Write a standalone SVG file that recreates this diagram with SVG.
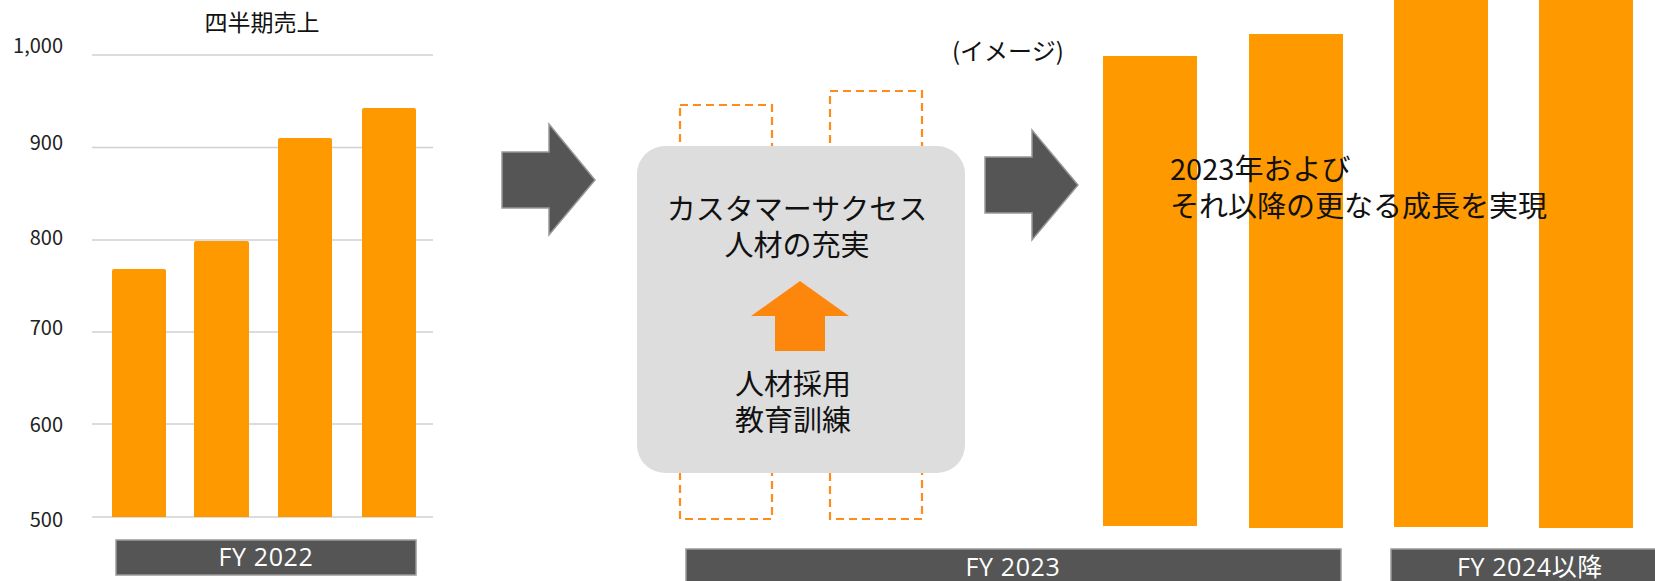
<svg xmlns="http://www.w3.org/2000/svg" width="1655" height="581" viewBox="0 0 1655 581">
<style>
text{font-family:"Noto Sans CJK JP","Noto Sans",sans-serif;fill:#111}
.ax{font-size:20px;text-anchor:end;fill:#222}
.grid{stroke:#d0d0d0;stroke-width:1.5}
.bar{fill:#ff9900}
.fy{fill:#555;stroke:#9a9a9a;stroke-width:1.5}
.fyt{fill:#fff;font-family:"Open Sans","Noto Sans CJK JP",sans-serif;font-size:25px;letter-spacing:0.6px;text-anchor:middle}
.dash{fill:none;stroke:#ff8c1a;stroke-width:2.2;stroke-dasharray:8 5}
.darr{fill:#555;stroke:#999;stroke-width:1.5}
.big{font-size:29px;text-anchor:middle}
.rt{font-size:29px}
</style>
<rect width="1655" height="581" fill="#fff"/>
<g id="chart2022">
<text x="262" y="31" style="font-size:23px" text-anchor="middle">四半期売上</text>
<g id="grid">
<line class="grid" x1="92" y1="55" x2="433" y2="55"/>
<line class="grid" x1="92" y1="147.5" x2="433" y2="147.5"/>
<line class="grid" x1="92" y1="240" x2="433" y2="240"/>
<line class="grid" x1="92" y1="332" x2="433" y2="332"/>
<line class="grid" x1="92" y1="424" x2="433" y2="424"/>
<line class="grid" x1="92" y1="517" x2="433" y2="517"/>
</g>
<text class="ax" x="63" y="53">1,000</text>
<text class="ax" x="63" y="150">900</text>
<text class="ax" x="63" y="245">800</text>
<text class="ax" x="63" y="335">700</text>
<text class="ax" x="63" y="432">600</text>
<text class="ax" x="63" y="527">500</text>
<path class="bar" d="M112,517V271a2,2 0 0 1 2,-2H164a2,2 0 0 1 2,2V517Z"/>
<path class="bar" d="M194,517V243a2,2 0 0 1 2,-2H247a2,2 0 0 1 2,2V517Z"/>
<path class="bar" d="M278,517V140a2,2 0 0 1 2,-2H330a2,2 0 0 1 2,2V517Z"/>
<path class="bar" d="M362,517V110a2,2 0 0 1 2,-2H414a2,2 0 0 1 2,2V517Z"/>
</g>
<g id="fy2022">
<rect class="fy" x="116" y="540" width="300" height="35"/>
<text class="fyt" x="266" y="566">FY 2022</text>
</g>
<g id="connectors">
<path class="darr" d="M502,152H549V124L595,180L549,235V208H502Z"/>
<path class="darr" d="M985,157H1032V130L1078,185L1032,240V213H985Z"/>
</g>
<g id="dashed-bars">
<rect class="dash" x="680" y="105" width="92" height="414"/>
<rect class="dash" x="830" y="91" width="92" height="428"/>
</g>
<g id="center-box">
<rect x="637" y="146" width="328" height="327" rx="28" fill="#dddddd"/>
<text class="big" x="797" y="220">カスタマーサクセス</text>
<text class="big" x="797" y="256">人材の充実</text>
<path d="M800,281L849,316H825V351H775V316H751Z" fill="#fd870d"/>
<text class="big" x="793" y="395">人材採用</text>
<text class="big" x="793" y="431">教育訓練</text>
</g>
<g id="future-chart">
<text x="952" y="60" style="font-size:24px">(イメージ)</text>
<rect class="bar" x="1103" y="56" width="94" height="470"/>
<rect class="bar" x="1249" y="34" width="94" height="494"/>
<rect class="bar" x="1394" y="0" width="94" height="527"/>
<rect class="bar" x="1539" y="0" width="94" height="528"/>
<text class="rt" x="1170" y="180">2023年および</text>
<text class="rt" x="1170" y="217">それ以降の更なる成長を実現</text>
</g>
<g id="fy2023">
<rect class="fy" x="686" y="549" width="655" height="40"/>
<text class="fyt" x="1013" y="576">FY 2023</text>
</g>
<g id="fy2024">
<rect class="fy" x="1391" y="549" width="280" height="40"/>
<text class="fyt" x="1530" y="576">FY 2024以降</text>
</g>
</svg>
